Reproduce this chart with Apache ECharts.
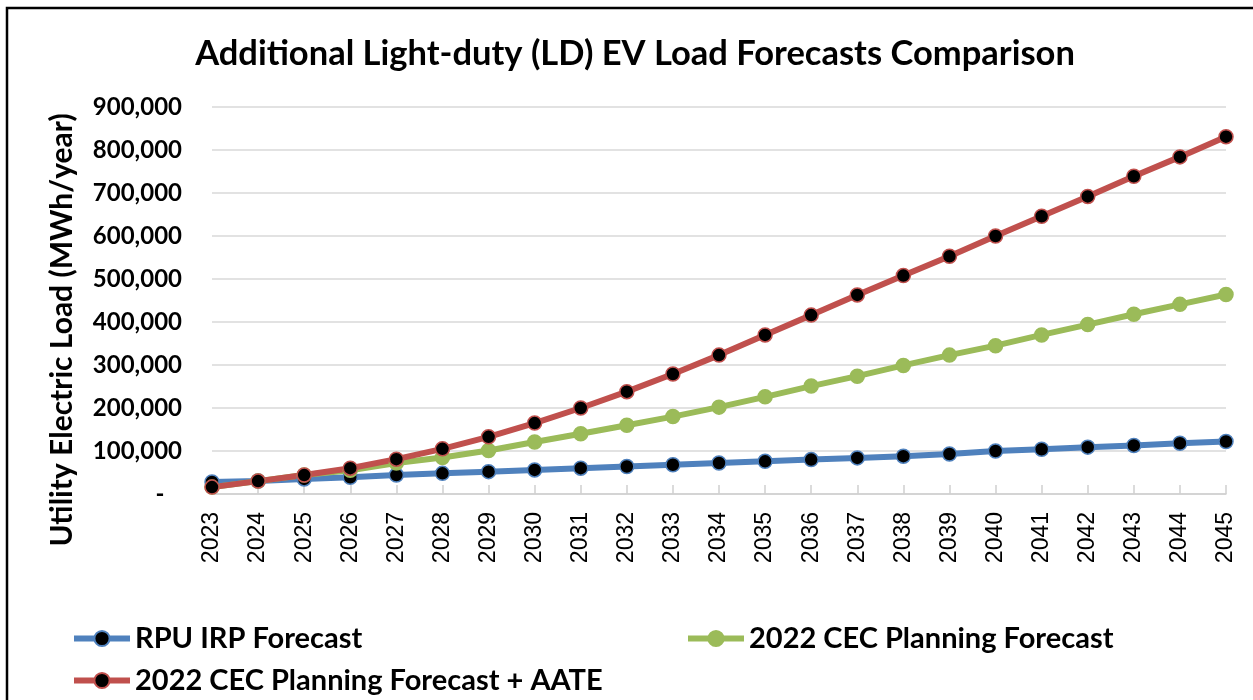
<!DOCTYPE html>
<html>
<head>
<meta charset="utf-8">
<script src="https://cdn.jsdelivr.net/npm/echarts@6/dist/echarts.min.js"></script>
<style>
  html, body { margin: 0; padding: 0; background: #ffffff; }
  #chart { width: 1253px; height: 700px; }
</style>
</head>
<body>
<div id="chart"></div>
<script>
// Forecast years
const years = ['2023','2024','2025','2026','2027','2028','2029','2030','2031','2032','2033','2034',
               '2035','2036','2037','2038','2039','2040','2041','2042','2043','2044','2045'];

// Additional LD EV load, MWh/year
const rpuIrp = [28000, 30000, 35000, 39000, 44000, 48000, 52000, 56000, 60000, 64000, 68000, 72000,
                76000, 80000, 84000, 88000, 93000, 100000, 104000, 109000, 113000, 118000, 122000];
const cec2022 = [16000, 30000, 44000, 55000, 72000, 85000, 101000, 121000, 140000, 160000, 180000, 202000,
                 226000, 251000, 274000, 299000, 323000, 345000, 370000, 394000, 418000, 441000, 464000];
const cec2022Aate = [16000, 30000, 44000, 60000, 81000, 105000, 133000, 165000, 200000, 238000, 279000, 323000,
                     370000, 416000, 463000, 508000, 553000, 600000, 646000, 692000, 739000, 784000, 831000];

// Y axis ticks
const yMin = 0, yMax = 900000, yStep = 100000;

const seriesNames = ['RPU IRP Forecast', '2022 CEC Planning Forecast', '2022 CEC Planning Forecast + AATE'];

const font = 'Lato, "Open Sans", "Liberation Sans", sans-serif';
const chart = echarts.init(document.getElementById('chart'), null, { renderer: 'canvas' });

function lineSeries(name, data, color, markerFill) {
  return {
    name: name,
    type: 'line',
    data: data,
    symbol: 'circle',
    symbolSize: 14,
    showSymbol: true,
    lineStyle: { color: color, width: 6 },
    itemStyle: { color: markerFill, borderColor: color, borderWidth: 1.5 },
    emphasis: { disabled: true },
    animation: false
  };
}

const legendText = { fontFamily: font, fontWeight: 'bold', fontSize: 29, color: '#000' };
const legendBase = {
  itemWidth: 56, itemHeight: 19, itemGap: 10,
  textStyle: legendText, selectedMode: false, orient: 'horizontal',
  lineStyle: { width: 6 }
};

chart.setOption({
  backgroundColor: '#ffffff',
  title: {
    text: 'Additional Light-duty (LD) EV Load Forecasts Comparison',
    left: 630, top: 31, textAlign: 'center',
    textStyle: { fontFamily: font, fontWeight: 'bold', fontSize: 34.5, color: '#000' }
  },
  legend: [
    Object.assign({ data: [seriesNames[0]], left: 66, top: 619 }, legendBase),
    Object.assign({ data: [seriesNames[1]], left: 680, top: 619 }, legendBase),
    Object.assign({ data: [seriesNames[2]], left: 66, top: 661 }, legendBase)
  ],
  grid: { left: 212, right: 27, top: 107, bottom: 206, containLabel: false },
  xAxis: {
    type: 'category',
    data: years,
    boundaryGap: false,
    axisLine: { lineStyle: { color: '#D0D0D0', width: 1.5 } },
    axisTick: { show: true, inside: true, length: 9, lineStyle: { color: '#D0D0D0', width: 1.5 } },
    axisLabel: { rotate: 90, margin: 18, fontFamily: '"Liberation Sans", Arial, sans-serif', fontSize: 23, color: '#000' },
    splitLine: { show: false }
  },
  yAxis: {
    type: 'value',
    min: yMin, max: yMax, interval: yStep,
    axisLine: { show: false },
    axisTick: { show: false },
    axisLabel: {
      margin: 30,
      fontFamily: font, fontWeight: 'bold', fontSize: 24, color: '#000',
      formatter: function (v) { return v === 0 ? '-   ' : v.toLocaleString('en-US'); }
    },
    splitLine: { lineStyle: { color: '#D9D9D9', width: 1.5 } }
  },
  graphic: [
    {
      type: 'rect', silent: true, z: 100,
      shape: { x: 7, y: 8, width: 1280, height: 720 },
      style: { fill: null, stroke: '#000', lineWidth: 2.5 }
    },
    {
      type: 'text', silent: true,
      x: 62, y: 330, rotation: Math.PI / 2,
      style: {
        text: 'Utility Electric Load (MWh/year)',
        fontFamily: font, fontWeight: 'bold', fontSize: 30, fill: '#000',
        textAlign: 'center', textVerticalAlign: 'middle'
      }
    }
  ],
  series: [
    lineSeries(seriesNames[0], rpuIrp, '#4F81BD', '#000000'),
    lineSeries(seriesNames[1], cec2022, '#9BBB59', '#9BBB59'),
    lineSeries(seriesNames[2], cec2022Aate, '#C0504D', '#000000')
  ]
});
</script>
</body>
</html>
